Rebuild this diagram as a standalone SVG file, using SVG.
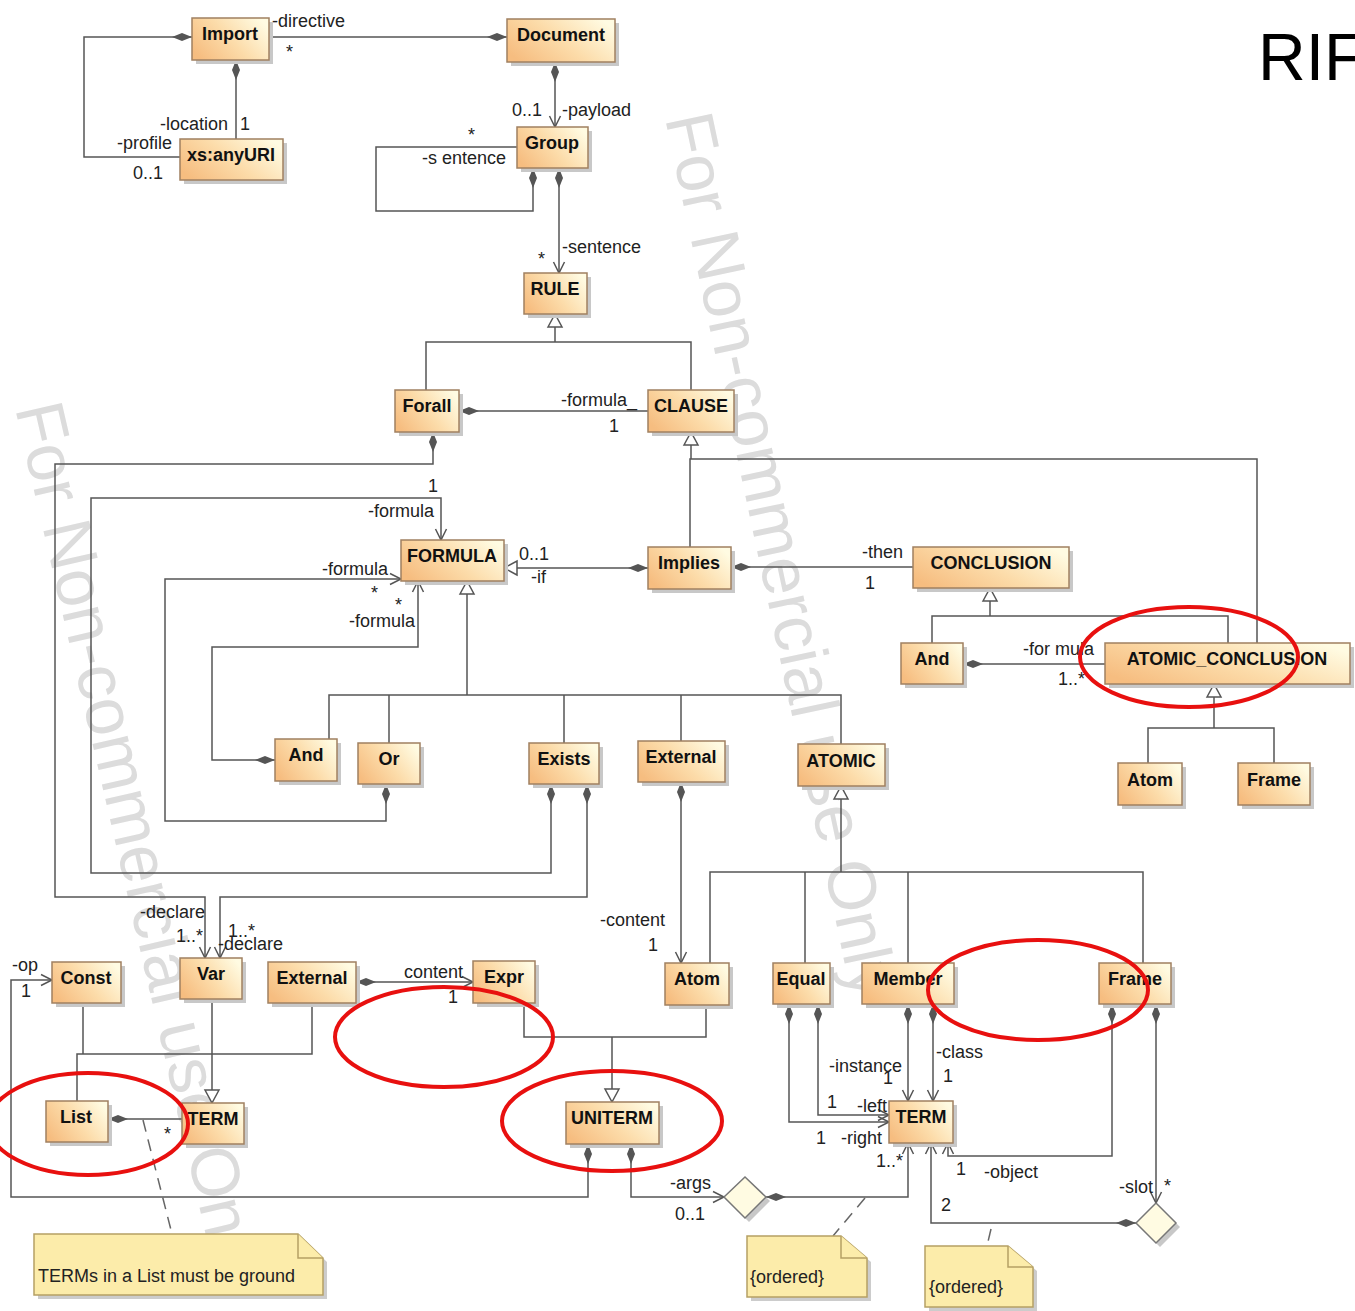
<svg xmlns="http://www.w3.org/2000/svg" width="1355" height="1311" viewBox="0 0 1355 1311">
  <defs>
    <linearGradient id="fillBox" x1="0" y1="0.75" x2="1" y2="0.25">
      <stop offset="0" stop-color="#f6bd80"/>
      <stop offset="0.5" stop-color="#fcdcaa"/>
      <stop offset="1" stop-color="#fffbe2"/>
    </linearGradient>
    <marker id="dia" markerUnits="userSpaceOnUse" markerWidth="22" markerHeight="10" refX="0" refY="4" orient="auto" overflow="visible">
      <path d="M0,4 L10,0 L20,4 L10,8 Z" fill="#555"/>
    </marker>
    <marker id="arr" markerUnits="userSpaceOnUse" markerWidth="13" markerHeight="13" refX="11" refY="5.5" orient="auto" overflow="visible">
      <path d="M0,0 L11,5.5 L0,11" fill="none" stroke="#555" stroke-width="1.5"/>
    </marker>
    <marker id="tri" markerUnits="userSpaceOnUse" markerWidth="15" markerHeight="16" refX="13" refY="7" orient="auto" overflow="visible">
      <path d="M0,0 L13,7 L0,14 Z" fill="#fff" stroke="#555" stroke-width="1.5"/>
    </marker>
  </defs>
  <style>
    .sh { fill: #c8c8c8; }
    .bx { fill: url(#fillBox); stroke: #a08060; stroke-width: 1.5; }
    .nm { font: bold 18px "Liberation Sans", Arial, sans-serif; text-anchor: middle; fill: #111; }
    .ln { fill: none; stroke: #555; stroke-width: 1.5; }
    .dash { fill: none; stroke: #666; stroke-width: 1.5; stroke-dasharray: 12 8; }
    .t { font: 18px "Liberation Sans", Arial, sans-serif; fill: #222; }
    .e { text-anchor: end; }
    .note { fill: #fcecaa; stroke: #b5a064; stroke-width: 1.5; }
    .wm { font: 68px "Liberation Sans", Arial, sans-serif; fill: #dcdcdc; }
    .ring { fill: none; stroke: #e8100f; stroke-width: 4; }
  </style>

  <rect width="1355" height="1311" fill="#fff"/>

  <!-- background watermark -->
  <g id="watermark">
    <text class="wm" transform="translate(665,118) rotate(78)">For Non-commercial use Only</text>
    <text class="wm" transform="translate(15,408) rotate(77)">For Non-commercial use Only</text>
  </g>

  <text x="1258" y="80" font-family="Liberation Sans, Arial, sans-serif" font-size="66" fill="#000">RIF</text>

  <!-- associations, generalizations and note links -->
  <g id="connectors">
    <path class="ln" marker-start="url(#dia)" d="M192,37 H84 V157 H180"/>
    <path class="ln" marker-start="url(#dia)" d="M236,60 V139"/>
    <path class="ln" marker-start="url(#dia)" d="M507,37 H269"/>
    <path class="ln" marker-start="url(#dia)" marker-end="url(#arr)" d="M555,62 V127"/>
    <path class="ln" marker-start="url(#dia)" d="M533,168 V211 H376 V147 H517"/>
    <path class="ln" marker-start="url(#dia)" marker-end="url(#arr)" d="M559,168 V273"/>

    <path class="ln" d="M426,390 V342 H691 V390"/>
    <path class="ln" marker-end="url(#tri)" d="M555,342 V314"/>

    <path class="ln" marker-start="url(#dia)" d="M459,411 H648"/>
    <path class="ln" marker-start="url(#dia)" marker-end="url(#arr)" d="M433,432 V464 H55 V897 H205 V958"/>

    <path class="ln" d="M690,547 V459 H1257 V643"/>
    <path class="ln" marker-end="url(#tri)" d="M691,459 V432"/>

    <path class="ln" marker-start="url(#dia)" marker-end="url(#tri)" d="M648,568 H504"/>
    <path class="ln" marker-start="url(#dia)" d="M731,567 H913"/>

    <path class="ln" d="M932,643 V616 H1228 V643"/>
    <path class="ln" marker-end="url(#tri)" d="M990,616 V588"/>
    <path class="ln" marker-start="url(#dia)" d="M963,664 H1105"/>
    <path class="ln" d="M1148,763 V728 H1274 V763"/>
    <path class="ln" marker-end="url(#tri)" d="M1214,728 V684"/>

    <path class="ln" marker-start="url(#dia)" marker-end="url(#arr)" d="M551,784 V873 H91 V498 H441 V540"/>
    <path class="ln" marker-start="url(#dia)" marker-end="url(#arr)" d="M386,784 V821 H165 V579 H401"/>
    <path class="ln" marker-start="url(#dia)" marker-end="url(#arr)" d="M275,760 H212 V647 H418 V581"/>

    <path class="ln" d="M329,739 V695 H841 V744 M389,695 V743 M564,695 V743 M681,695 V741"/>
    <path class="ln" marker-end="url(#tri)" d="M467,695 V581"/>

    <path class="ln" marker-start="url(#dia)" marker-end="url(#arr)" d="M587,784 V897 H220 V958"/>
    <path class="ln" marker-start="url(#dia)" marker-end="url(#arr)" d="M681,782 V963"/>

    <path class="ln" d="M710,963 V872 H1143 V963 M805,872 V963 M908,872 V963"/>
    <path class="ln" marker-end="url(#tri)" d="M841,872 V786"/>

    <path class="ln" d="M524,1003 V1037 H706 V1005"/>
    <path class="ln" marker-end="url(#tri)" d="M612,1037 V1102"/>

    <path class="ln" d="M83,1003 V1054 M77,1101 V1054 H312 V1003"/>
    <path class="ln" marker-end="url(#tri)" d="M212,999 V1103"/>

    <path class="ln" marker-start="url(#dia)" d="M108,1119 H182"/>
    <path class="ln" marker-start="url(#dia)" marker-end="url(#arr)" d="M588,1144 V1197 H11 V980 H52"/>
    <path class="ln" marker-start="url(#dia)" marker-end="url(#arr)" d="M356,982 H473"/>
    <path class="ln" marker-start="url(#dia)" marker-end="url(#arr)" d="M631,1144 V1197 H724"/>
    <path class="ln" marker-start="url(#dia)" marker-end="url(#arr)" d="M766,1197 H908 V1143"/>

    <path class="ln" marker-start="url(#dia)" marker-end="url(#arr)" d="M789,1004 V1122 H889"/>
    <path class="ln" marker-start="url(#dia)" marker-end="url(#arr)" d="M818,1004 V1115 H889"/>
    <path class="ln" marker-start="url(#dia)" marker-end="url(#arr)" d="M908,1004 V1101"/>
    <path class="ln" marker-start="url(#dia)" marker-end="url(#arr)" d="M933,1004 V1101"/>
    <path class="ln" marker-start="url(#dia)" marker-end="url(#arr)" d="M1112,1004 V1156 H948 V1143"/>
    <path class="ln" marker-start="url(#dia)" marker-end="url(#arr)" d="M1156,1004 V1203"/>
    <path class="ln" marker-start="url(#dia)" marker-end="url(#arr)" d="M1136,1223 H931 V1143"/>

    <path class="dash" d="M143,1120 L172,1234"/>
    <path class="dash" d="M865,1198 L833,1236"/>
    <path class="dash" d="M991,1229 L987,1246"/>
  </g>

  <!-- association end labels -->
  <g id="labels">
    <text class="t" x="272" y="27">-directive</text>
    <text class="t" x="286" y="58">*</text>
    <text class="t e" x="228" y="130">-location</text>
    <text class="t" x="240" y="130">1</text>
    <text class="t e" x="172" y="149">-profile</text>
    <text class="t" x="133" y="179">0..1</text>
    <text class="t" x="512" y="116">0..1</text>
    <text class="t" x="562" y="116">-payload</text>
    <text class="t" x="468" y="141">*</text>
    <text class="t e" x="506" y="164">-s entence</text>
    <text class="t" x="562" y="253">-sentence</text>
    <text class="t" x="538" y="265">*</text>
    <text class="t" x="561" y="406">-formula_</text>
    <text class="t" x="609" y="432">1</text>
    <text class="t" x="428" y="492">1</text>
    <text class="t" x="368" y="517">-formula</text>
    <text class="t" x="322" y="575">-formula</text>
    <text class="t" x="371" y="599">*</text>
    <text class="t" x="395" y="611">*</text>
    <text class="t" x="349" y="627">-formula</text>
    <text class="t" x="519" y="560">0..1</text>
    <text class="t" x="531" y="583">-if</text>
    <text class="t" x="862" y="558">-then</text>
    <text class="t" x="865" y="589">1</text>
    <text class="t" x="1023" y="655">-for mula</text>
    <text class="t" x="1058" y="685">1..*</text>
    <text class="t" x="140" y="918">-declare</text>
    <text class="t" x="176" y="942">1..*</text>
    <text class="t" x="228" y="937">1..*</text>
    <text class="t" x="218" y="950">-declare</text>
    <text class="t" x="600" y="926">-content</text>
    <text class="t" x="648" y="951">1</text>
    <text class="t" x="12" y="971">-op</text>
    <text class="t" x="21" y="997">1</text>
    <text class="t" x="404" y="978">content</text>
    <text class="t" x="448" y="1003">1</text>
    <text class="t" x="164" y="1140">*</text>
    <text class="t" x="670" y="1189">-args</text>
    <text class="t" x="675" y="1220">0..1</text>
    <text class="t" x="876" y="1167">1..*</text>
    <text class="t" x="829" y="1072">-instance</text>
    <text class="t" x="883" y="1084">1</text>
    <text class="t" x="936" y="1058">-class</text>
    <text class="t" x="943" y="1082">1</text>
    <text class="t" x="827" y="1108">1</text>
    <text class="t" x="857" y="1112">-left</text>
    <text class="t" x="816" y="1144">1</text>
    <text class="t" x="841" y="1144">-right</text>
    <text class="t" x="956" y="1175">1</text>
    <text class="t" x="984" y="1178">-object</text>
    <text class="t" x="1119" y="1193">-slot</text>
    <text class="t" x="1164" y="1192">*</text>
    <text class="t" x="941" y="1211">2</text>
  </g>

  <!-- classes -->
  <g id="n-import"><rect class="sh" x="196" y="22" width="77" height="42"/><rect class="bx" x="192" y="18" width="77" height="42"/><text class="nm" x="230" y="40">Import</text></g>
  <g id="n-document"><rect class="sh" x="511" y="23" width="108" height="43"/><rect class="bx" x="507" y="19" width="108" height="43"/><text class="nm" x="561" y="41">Document</text></g>
  <g id="n-anyuri"><rect class="sh" x="184" y="143" width="103" height="41"/><rect class="bx" x="180" y="139" width="103" height="41"/><text class="nm" x="231" y="161">xs:anyURI</text></g>
  <g id="n-group"><rect class="sh" x="521" y="131" width="71" height="41"/><rect class="bx" x="517" y="127" width="71" height="41"/><text class="nm" x="552" y="149">Group</text></g>
  <g id="n-rule"><rect class="sh" x="528" y="277" width="63" height="41"/><rect class="bx" x="524" y="273" width="63" height="41"/><text class="nm" x="555" y="295">RULE</text></g>
  <g id="n-forall"><rect class="sh" x="399" y="394" width="64" height="42"/><rect class="bx" x="395" y="390" width="64" height="42"/><text class="nm" x="427" y="412">Forall</text></g>
  <g id="n-clause"><rect class="sh" x="652" y="394" width="86" height="42"/><rect class="bx" x="648" y="390" width="86" height="42"/><text class="nm" x="691" y="412">CLAUSE</text></g>
  <g id="n-formula"><rect class="sh" x="405" y="544" width="103" height="41"/><rect class="bx" x="401" y="540" width="103" height="41"/><text class="nm" x="452" y="562">FORMULA</text></g>
  <g id="n-implies"><rect class="sh" x="652" y="551" width="83" height="42"/><rect class="bx" x="648" y="547" width="83" height="42"/><text class="nm" x="689" y="569">Implies</text></g>
  <g id="n-conclusion"><rect class="sh" x="917" y="551" width="156" height="41"/><rect class="bx" x="913" y="547" width="156" height="41"/><text class="nm" x="991" y="569">CONCLUSION</text></g>
  <g id="n-and-conclusion"><rect class="sh" x="905" y="647" width="62" height="41"/><rect class="bx" x="901" y="643" width="62" height="41"/><text class="nm" x="932" y="665">And</text></g>
  <g id="n-atomic-conclusion"><rect class="sh" x="1109" y="647" width="245" height="41"/><rect class="bx" x="1105" y="643" width="245" height="41"/><text class="nm" x="1227" y="665">ATOMIC_CONCLUSION</text></g>
  <g id="n-atom-conclusion"><rect class="sh" x="1122" y="767" width="64" height="42"/><rect class="bx" x="1118" y="763" width="64" height="42"/><text class="nm" x="1150" y="786">Atom</text></g>
  <g id="n-frame-conclusion"><rect class="sh" x="1242" y="767" width="72" height="42"/><rect class="bx" x="1238" y="763" width="72" height="42"/><text class="nm" x="1274" y="786">Frame</text></g>
  <g id="n-and"><rect class="sh" x="279" y="743" width="62" height="42"/><rect class="bx" x="275" y="739" width="62" height="42"/><text class="nm" x="306" y="761">And</text></g>
  <g id="n-or"><rect class="sh" x="362" y="747" width="62" height="41"/><rect class="bx" x="358" y="743" width="62" height="41"/><text class="nm" x="389" y="765">Or</text></g>
  <g id="n-exists"><rect class="sh" x="533" y="747" width="70" height="41"/><rect class="bx" x="529" y="743" width="70" height="41"/><text class="nm" x="564" y="765">Exists</text></g>
  <g id="n-external-formula"><rect class="sh" x="642" y="745" width="87" height="41"/><rect class="bx" x="638" y="741" width="87" height="41"/><text class="nm" x="681" y="763">External</text></g>
  <g id="n-atomic"><rect class="sh" x="802" y="748" width="87" height="42"/><rect class="bx" x="798" y="744" width="87" height="42"/><text class="nm" x="841" y="767">ATOMIC</text></g>
  <g id="n-const"><rect class="sh" x="56" y="966" width="69" height="41"/><rect class="bx" x="52" y="962" width="69" height="41"/><text class="nm" x="86" y="984">Const</text></g>
  <g id="n-var"><rect class="sh" x="184" y="962" width="62" height="41"/><rect class="bx" x="180" y="958" width="62" height="41"/><text class="nm" x="211" y="980">Var</text></g>
  <g id="n-external-term"><rect class="sh" x="272" y="966" width="88" height="41"/><rect class="bx" x="268" y="962" width="88" height="41"/><text class="nm" x="312" y="984">External</text></g>
  <g id="n-expr"><rect class="sh" x="477" y="965" width="62" height="42"/><rect class="bx" x="473" y="961" width="62" height="42"/><text class="nm" x="504" y="983">Expr</text></g>
  <g id="n-atom"><rect class="sh" x="669" y="967" width="64" height="42"/><rect class="bx" x="665" y="963" width="64" height="42"/><text class="nm" x="697" y="985">Atom</text></g>
  <g id="n-equal"><rect class="sh" x="777" y="967" width="57" height="41"/><rect class="bx" x="773" y="963" width="57" height="41"/><text class="nm" x="801" y="985">Equal</text></g>
  <g id="n-member"><rect class="sh" x="866" y="967" width="92" height="41"/><rect class="bx" x="862" y="963" width="92" height="41"/><text class="nm" x="908" y="985">Member</text></g>
  <g id="n-frame"><rect class="sh" x="1103" y="967" width="72" height="41"/><rect class="bx" x="1099" y="963" width="72" height="41"/><text class="nm" x="1135" y="985">Frame</text></g>
  <g id="n-list"><rect class="sh" x="50" y="1105" width="62" height="41"/><rect class="bx" x="46" y="1101" width="62" height="41"/><text class="nm" x="76" y="1123">List</text></g>
  <g id="n-term-list"><rect class="sh" x="186" y="1107" width="62" height="41"/><rect class="bx" x="182" y="1103" width="62" height="41"/><text class="nm" x="213" y="1125">TERM</text></g>
  <g id="n-uniterm"><rect class="sh" x="570" y="1106" width="93" height="42"/><rect class="bx" x="566" y="1102" width="93" height="42"/><text class="nm" x="612" y="1124">UNITERM</text></g>
  <g id="n-term"><rect class="sh" x="893" y="1105" width="64" height="42"/><rect class="bx" x="889" y="1101" width="64" height="42"/><text class="nm" x="921" y="1123">TERM</text></g>

  <!-- n-ary association diamonds -->
  <g id="n-args">
    <polygon points="728,1201 749,1181 770,1201 749,1222" fill="#c8c8c8"/>
    <polygon points="724,1197 745,1177 766,1197 745,1218" fill="#fffbe2" stroke="#777" stroke-width="1.5"/>
  </g>
  <g id="n-slot">
    <polygon points="1140,1227 1160,1207 1180,1227 1160,1247" fill="#c8c8c8"/>
    <polygon points="1136,1223 1156,1203 1176,1223 1156,1243" fill="#fffbe2" stroke="#777" stroke-width="1.5"/>
  </g>

  <!-- notes -->
  <g id="note-ground">
    <polygon points="38,1238 302,1238 327,1262 327,1299 38,1299" fill="#cccccc"/>
    <polygon class="note" points="34,1234 298,1234 323,1258 323,1295 34,1295"/>
    <polyline class="note" points="298,1234 298,1258 323,1258"/>
    <text class="t" x="38" y="1282">TERMs in a List must be ground</text>
  </g>
  <g id="note-ordered-args">
    <polygon points="751,1240 845,1240 871,1262 871,1301 751,1301" fill="#cccccc"/>
    <polygon class="note" points="747,1236 841,1236 867,1258 867,1297 747,1297"/>
    <polyline class="note" points="841,1236 841,1258 867,1258"/>
    <text class="t" x="750" y="1283">{ordered}</text>
  </g>
  <g id="note-ordered-slot">
    <polygon points="929,1250 1012,1250 1037,1271 1037,1311 929,1311" fill="#cccccc"/>
    <polygon class="note" points="925,1246 1008,1246 1033,1267 1033,1307 925,1307"/>
    <polyline class="note" points="1008,1246 1008,1267 1033,1267"/>
    <text class="t" x="929" y="1293">{ordered}</text>
  </g>

  <!-- red highlight rings -->
  <g id="highlights">
    <ellipse class="ring" cx="1189" cy="657" rx="109" ry="50"/>
    <ellipse class="ring" cx="1038" cy="990" rx="110" ry="50"/>
    <ellipse class="ring" cx="444" cy="1037" rx="109" ry="50"/>
    <ellipse class="ring" cx="612" cy="1121" rx="110" ry="50"/>
    <ellipse class="ring" cx="88" cy="1124" rx="100" ry="51"/>
  </g>
</svg>
